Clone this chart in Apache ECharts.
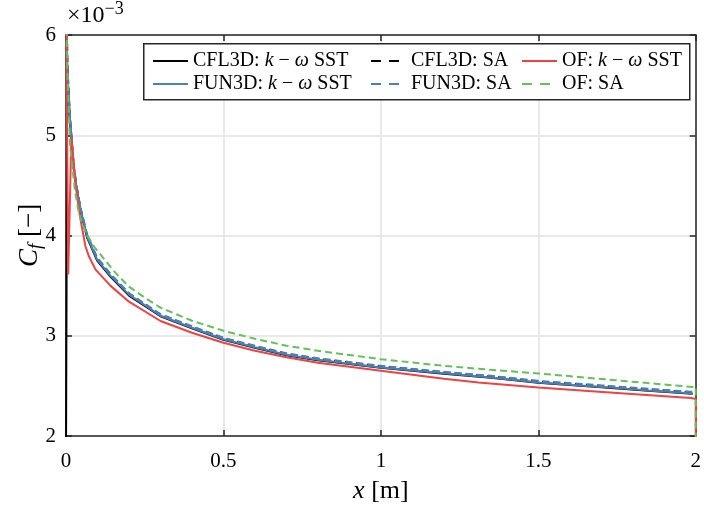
<!DOCTYPE html>
<html>
<head>
<meta charset="utf-8">
<script src="https://cdn.jsdelivr.net/npm/echarts@6/dist/echarts.min.js"></script>
<style>html,body{margin:0;padding:0;background:#fff;}#c{width:704px;height:509px;}</style>
</head>
<body>
<div id="c"></div>
<script>
// ---- data (Cf in units of 1e-3) ----
const X_TURB = [0, 0.004, 0.0074, 0.0127, 0.025, 0.035, 0.046, 0.067, 0.099, 0.141, 0.2, 0.3, 0.4, 0.5, 0.6, 0.7, 0.8, 1.0, 1.2, 1.35, 1.5, 1.7, 1.85, 1.99];
const CFL3D_SST = [1.8, 5.70, 5.43, 5.13, 4.65, 4.44, 4.25, 3.98, 3.75, 3.59, 3.40, 3.195, 3.075, 2.96, 2.88, 2.805, 2.755, 2.68, 2.62, 2.58, 2.53, 2.486, 2.452, 2.422];
const CFL3D_SA  = [6.9, 5.76, 5.48, 5.17, 4.67, 4.46, 4.27, 4.00, 3.77, 3.61, 3.42, 3.21, 3.09, 2.975, 2.895, 2.82, 2.77, 2.695, 2.635, 2.595, 2.545, 2.50, 2.465, 2.435];
const FUN3D_SST = [6.8, 5.72, 5.45, 5.15, 4.66, 4.45, 4.26, 3.99, 3.76, 3.60, 3.41, 3.20, 3.08, 2.965, 2.885, 2.81, 2.76, 2.684, 2.625, 2.584, 2.534, 2.49, 2.455, 2.425];
const FUN3D_SA  = [6.9, 5.78, 5.50, 5.18, 4.68, 4.47, 4.28, 4.01, 3.78, 3.62, 3.425, 3.215, 3.095, 2.98, 2.90, 2.825, 2.775, 2.70, 2.64, 2.60, 2.55, 2.505, 2.47, 2.44];
const X_OF_SST = [0, 0.007, 0.017, 0.031, 0.046, 0.062, 0.073, 0.094, 0.141, 0.2, 0.3, 0.4, 0.5, 0.6, 0.7, 0.8, 1.0, 1.2, 1.31, 1.5, 1.75, 1.985, 2.0, 2.0];
const OF_SST = [6.5, 3.61, 4.98, 4.49, 4.16, 3.89, 3.79, 3.66, 3.50, 3.34, 3.147, 3.03, 2.93, 2.85, 2.785, 2.73, 2.65, 2.57, 2.534, 2.485, 2.43, 2.378, 2.37, 1.5];
const X_OF_SA = [0, 0.004, 0.0074, 0.013, 0.028, 0.041, 0.062, 0.089, 0.115, 0.152, 0.2, 0.25, 0.3, 0.4, 0.5, 0.6, 0.7, 0.8, 1.0, 1.2, 1.35, 1.5, 1.75, 1.985, 2.0, 2.0];
const OF_SA = [6.5, 5.72, 5.39, 4.89, 4.46, 4.22, 4.03, 3.89, 3.79, 3.645, 3.49, 3.38, 3.28, 3.15, 3.05, 2.97, 2.90, 2.85, 2.766, 2.70, 2.66, 2.624, 2.555, 2.49, 2.49, 1.5];

const LABELS = {
  'CFL3D SST': '{n|CFL3D: }{i|k}{n| − }{i|ω}{n| SST}',
  'CFL3D SA': '{n|CFL3D: SA}',
  'FUN3D SST': '{n|FUN3D: }{i|k}{n| − }{i|ω}{n| SST}',
  'FUN3D SA': '{n|FUN3D: SA}',
  'OF SST': '{n|OF: }{i|k}{n| − }{i|ω}{n| SST}',
  'OF SA': '{n|OF: SA}'
};
const X_TICKS = [0, 0.5, 1, 1.5, 2];
const Y_TICKS = [2, 3, 4, 5, 6];

function pairs(xs, ys) { return xs.map((x, i) => [x, ys[i]]); }

const FONT = 'Liberation Serif';
const AX = '#262626';
const legendText = {
  fontFamily: FONT, fontSize: 20, color: '#000',
  rich: {
    n: { fontFamily: FONT, fontSize: 20, color: '#000', lineHeight: 22 },
    i: { fontFamily: FONT, fontSize: 20, color: '#000', fontStyle: 'italic', lineHeight: 22 }
  }
};
const DASHED = { 'CFL3D SA': 1, 'FUN3D SA': 1, 'OF SA': 1 };
function mkLegend(names, left) {
  return {
    data: names.map(n => DASHED[n] ? { name: n, lineStyle: { type: [10, 8] } } : { name: n }),
    orient: 'vertical', left, top: 46, itemWidth: 35, itemHeight: 14, itemGap: 3,
    selectedMode: false, textStyle: legendText, formatter: n => LABELS[n], z: 60,
    itemStyle: { opacity: 0, borderWidth: 0 }
  };
}
function mkSeries(name, data, color, dashed) {
  return {
    name, type: 'line', data, symbol: 'none', showSymbol: false, animation: false,
    lineStyle: { color, width: 2, type: dashed ? [7, 4] : 'solid' },
    itemStyle: { color }
  };
}
const axisCommon = {
  axisLine: { show: true, onZero: false, lineStyle: { color: AX, width: 1.5 } },
  axisTick: { show: true, inside: true, length: 6, lineStyle: { color: AX, width: 1.5 } }
};

const chart = echarts.init(document.getElementById('c'), null, { renderer: 'canvas' });
chart.setOption({
  animation: false,
  backgroundColor: '#fff',
  grid: { left: 66, right: 6, top: 35, bottom: 72, containLabel: false },
  xAxis: [
    Object.assign({
      type: 'value', min: X_TICKS[0], max: X_TICKS[X_TICKS.length - 1], interval: 0.5,
      axisLabel: { fontFamily: FONT, fontSize: 21, color: '#000', margin: 15 },
      splitLine: { show: true, lineStyle: { color: '#e2e2e2', width: 1.5 } },
      name: '{i|x}{n| [m]}', nameLocation: 'middle', nameGap: 40, nameMoveOverlap: false,
      nameTextStyle: { fontFamily: FONT, fontSize: 26, color: '#000', rich: {
        i: { fontFamily: FONT, fontSize: 26, fontStyle: 'italic', color: '#000', lineHeight: 30 },
        n: { fontFamily: FONT, fontSize: 26, color: '#000', lineHeight: 30 } } }
    }, axisCommon),
    Object.assign({
      type: 'value', position: 'top', min: X_TICKS[0], max: X_TICKS[X_TICKS.length - 1], interval: 0.5,
      axisLabel: { show: false }, splitLine: { show: false }
    }, axisCommon)
  ],
  yAxis: [
    Object.assign({
      type: 'value', min: Y_TICKS[0], max: Y_TICKS[Y_TICKS.length - 1], interval: 1,
      axisLabel: { fontFamily: FONT, fontSize: 21, color: '#000', margin: 10 },
      splitLine: { show: true, lineStyle: { color: '#e2e2e2', width: 1.5 } },
      name: '{i|C}{s|f}{n| [−]}', nameLocation: 'middle', nameRotate: 90, nameGap: 21, nameMoveOverlap: false,
      nameTextStyle: { fontFamily: FONT, fontSize: 27, color: '#000', rich: {
        i: { fontFamily: FONT, fontSize: 27, fontStyle: 'italic', color: '#000', lineHeight: 30 },
        s: { fontFamily: FONT, fontSize: 19, fontStyle: 'italic', color: '#000', lineHeight: 8, verticalAlign: 'bottom' },
        n: { fontFamily: FONT, fontSize: 27, color: '#000', lineHeight: 30 } } }
    }, axisCommon),
    Object.assign({
      type: 'value', position: 'right', min: Y_TICKS[0], max: Y_TICKS[Y_TICKS.length - 1], interval: 1,
      axisLabel: { show: false }, splitLine: { show: false }
    }, axisCommon)
  ],
  legend: [
    mkLegend(['CFL3D SST', 'FUN3D SST'], 147),
    mkLegend(['CFL3D SA', 'FUN3D SA'], 365),
    mkLegend(['OF SST', 'OF SA'], 516)
  ],
  graphic: [
    { type: 'rect', left: 143, top: 43, shape: { width: 546, height: 56 }, z: 50,
      style: { fill: '#fff', stroke: AX, lineWidth: 1.5 } },
    { type: 'text', left: 67, top: 0, z: 50,
      style: { text: '{a|×10}{b|−3}', fill: '#000', font: '24px "Liberation Serif"',
        rich: { a: { fontFamily: FONT, fontSize: 24, lineHeight: 32, fill: '#000' },
                b: { fontFamily: FONT, fontSize: 18, lineHeight: 12, verticalAlign: 'top', fill: '#000' } } } }
  ],
  series: [
    mkSeries('CFL3D SST', pairs(X_TURB, CFL3D_SST), '#000000', false),
    mkSeries('CFL3D SA', pairs(X_TURB, CFL3D_SA), '#000000', true),
    mkSeries('FUN3D SST', pairs(X_TURB, FUN3D_SST), '#4d80b3', false),
    mkSeries('FUN3D SA', pairs(X_TURB, FUN3D_SA), '#4d80b3', true),
    mkSeries('OF SST', pairs(X_OF_SST, OF_SST), '#ea4444', false),
    mkSeries('OF SA', pairs(X_OF_SA, OF_SA), '#66bf5a', true)
  ]
});
</script>
</body>
</html>
